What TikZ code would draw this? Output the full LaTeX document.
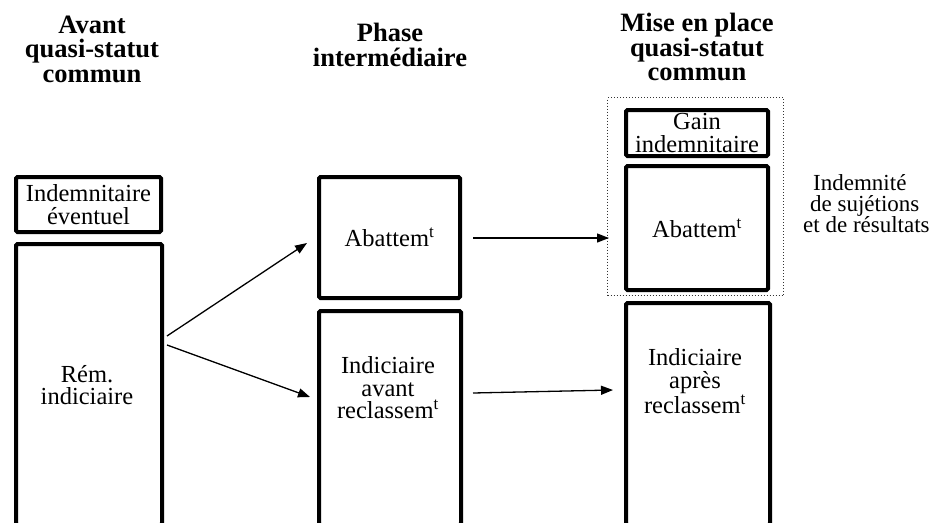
\documentclass[tikz,border=0pt]{standalone}
\usepackage{fontspec}
\setmainfont{Liberation Serif}
\usetikzlibrary{arrows.meta}
\tikzset{
  box/.style={draw=black, line width=4pt, rounded corners=1.5pt, inner sep=0pt, align=center,
    font=\fontsize{24.5}{22.5}\selectfont},
  lbl/.style={inner sep=0pt, align=center, font=\fontsize{24.5}{22.5}\selectfont},
  head/.style={inner sep=0pt, align=center, font=\fontsize{26.5}{24.5}\selectfont\bfseries},
  side/.style={inner sep=0pt, align=left, font=\fontsize{23}{21}\selectfont},
  arr/.style={line width=1.3pt, -{Triangle[length=12pt,width=9pt]}},
  grp/.style={draw=black!80, dotted, line width=1pt, inner sep=0pt}
}
\begin{document}
\begin{tikzpicture}[x=1pt,y=-1pt]
\useasboundingbox (0,0) rectangle (934,522);
\clip (0,0) rectangle (934,522);
\fill[white] (0,0) rectangle (934,522);
% headers
\node[head] (h1) at (92,49) {Avant\\quasi-statut\\commun};
\node[head] (h2) at (390,45) {Phase\\intermédiaire};
\node[head] (h3) at (697,47) {Mise en place\\quasi-statut\\commun};
% left column
\node[box, minimum width=145pt, minimum height=55pt, anchor=north west] (ind) at (14,175) {Indemnitaire\\éventuel};
\node[box, minimum width=146pt, minimum height=281pt, anchor=north west] (rem) at (14,242) {};
\node[lbl] (remt) at (87,385) {Rém.\\indiciaire};
% middle column
\node[box, minimum width=141pt, minimum height=121pt, anchor=north west] (ab1) at (317,175) {Abattem\textsuperscript{t}};
\node[box, minimum width=142pt, minimum height=214pt, anchor=north west] (ia) at (317,309) {};
\node[lbl] (iat) at (388,388) {Indiciaire\\avant\\reclassem\textsuperscript{t}};
% right column
\node[grp, minimum width=176pt, minimum height=198pt, anchor=north west] (grp) at (607,97) {};
\node[box, minimum width=142pt, minimum height=46pt, anchor=north west] (gain) at (624,108) {Gain\\indemnitaire};
\node[box, minimum width=142pt, minimum height=124pt, anchor=north west] (ab2) at (624,164) {Abattem\textsuperscript{t}};
\node[box, minimum width=144pt, minimum height=222pt, anchor=north west] (ip) at (624,301) {};
\node[lbl] (ipt) at (695,381) {Indiciaire\\après\\reclassem\textsuperscript{t}};
\node[side, anchor=west] (isr) at (803,204) {\hspace*{10pt}Indemnité\\\hspace*{7pt}de sujétions\\et de résultats};
% arrows
\coordinate (a1s) at (167,336);
\coordinate (a1e) at (307,243);
\coordinate (a2s) at (167,345);
\coordinate (a2e) at (310,397);
\coordinate (a3s) at (473,238);
\coordinate (a3e) at (609,238);
\coordinate (a4s) at (473,393);
\coordinate (a4e) at (613,390);
\draw[arr] (a1s) -- (a1e);
\draw[arr] (a2s) -- (a2e);
\draw[arr] (a3s) -- (a3e);
\draw[arr] (a4s) -- (a4e);
\end{tikzpicture}
\end{document}
